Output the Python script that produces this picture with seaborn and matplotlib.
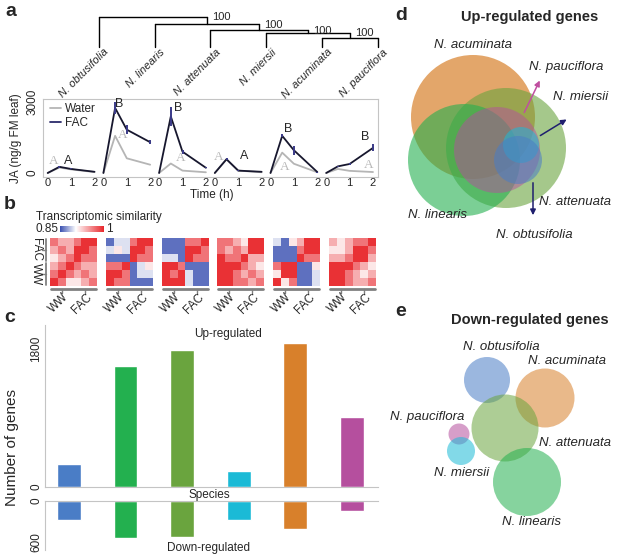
import numpy as np
import pandas as pd
import matplotlib
matplotlib.use("Agg")
import matplotlib.pyplot as plt
import seaborn as sns
from matplotlib.colors import LinearSegmentedColormap, Normalize
from matplotlib.patches import Circle

sns.set_style("white")
plt.rcParams['font.family'] = ['Liberation Sans', 'DejaVu Sans']

W, H = 617, 556

# ---- data ----
species = ["N. obtusifolia", "N. linearis", "N. attenuata", "N. miersii", "N. acuminata", "N. pauciflora"]
sp_colors = ["#4a7dc6", "#23b04f", "#6aa43e", "#1bbad6", "#d8802b", "#b54f9e"]

# a: tree (caterpillar, merged from the right), node heights and support
merge_height = [9, 14, 17, 23, 30]
bootstrap = ["100", "100", "100", "100"]

# a: JA time course
time_h = [0, 0.5, 1, 2]
ja_water = [[0, 230, 150, 40], [0, 1570, 620, 350], [0, 400, 100, 30],
            [0, 580, 100, 30], [0, 860, 390, 30], [0, 170, 90, 40]]
ja_fac = [[0, 260, 170, 50], [0, 2750, 1830, 1300], [0, 2390, 900, 220],
          [0, 580, 100, 50], [0, 1570, 960, 40], [0, 280, 380, 1060]]
fac_err = [[0, 40, 20, 10], [0, 250, 180, 80], [0, 400, 80, 30],
           [0, 40, 20, 10], [0, 60, 200, 20], [0, 30, 40, 150]]
letter_fac = ["A", "B", "B", "A", "B", "B"]
letter_fac_xy = [(0.87, 520), (0.67, 2900), (0.8, 2750), (1.25, 720), (0.74, 1870), (1.67, 1520)]
letter_water_xy = [(0.27, 520), (0.84, 1600), (0.93, 620), (0.17, 680), (0.61, 240), (1.8, 320)]

# b: transcriptomic similarity (rows FAC x3 then WW x3, cols WW x3 then FAC x3)
sim_obt = [[.965, .94, .94, .965, .995, .995], [.94, .965, .94, .995, .995, .965],
           [.915, .94, .965, .995, .965, .965], [.94, .965, .995, .965, .94, .94],
           [.965, .995, .965, .94, .965, .94], [.995, .965, .915, .915, .94, .965]]
sim_lin = [[.86, .895, .895, .965, .995, .995], [.895, .915, .895, .995, .995, .965],
           [.86, .86, .86, .995, .965, .965], [.965, .965, .995, .86, .895, .915],
           [.995, .995, .965, .86, .895, .895], [.995, .965, .965, .86, .86, .86]]
sim_att = [[.86, .86, .86, .965, .965, .995], [.86, .86, .86, .995, .995, .965],
           [.895, .895, .86, .995, .965, .965], [.995, .995, .965, .86, .86, .86],
           [.995, .965, .995, .895, .86, .86], [.995, .995, .995, .895, .86, .86]]
sim_mie = [[.965, .965, .94, .915, .995, .995], [.965, .94, .965, .94, .995, .995],
           [.995, .965, .965, .995, .94, .94], [.995, .995, .995, .965, .94, .915],
           [.995, .995, .965, .94, .965, .94], [.995, .995, .965, .965, .94, .965]]
sim_acu = [[.895, .86, .915, .94, .995, .995], [.86, .86, .86, .965, .995, .995],
           [.86, .86, .86, .995, .965, .965], [.965, .995, .995, .86, .86, .915],
           [.915, .995, .995, .86, .86, .895], [.995, .915, .965, .86, .86, .895]]
sim_pau = [[.94, .915, .94, .965, .965, .995], [.915, .915, .94, .995, .995, .965],
           [.94, .94, .965, .995, .995, .94], [.995, .995, .995, .965, .94, .915],
           [.995, .995, .965, .94, .915, .94], [.995, .995, .965, .94, .94, .965]]
sim_all = [sim_obt, sim_lin, sim_att, sim_mie, sim_acu, sim_pau]

# c: number of genes
up_genes = [300, 1580, 1790, 210, 1880, 910]
down_genes = [280, 540, 530, 280, 410, 150]

# d/e: Euler circles (panel pixel frame), drawing order
up_order = [4, 2, 1, 5, 3, 0]
up_cx = [518, 464, 506, 521, 473, 497]
up_cy = [160, 160, 148, 145, 117, 150]
up_r = [24, 56, 60, 18, 62, 43]
up_alpha = [0.55, 0.6, 0.6, 0.55, 0.7, 0.5]
dn_cx = [487, 527, 505, 461, 545, 459]
dn_cy = [380, 482, 428, 451, 398, 434]
dn_r = [23, 34, 33.5, 14, 29.5, 10.5]


def box(x0, y0, x1, y1):
    return [x0 / W, 1 - y1 / H, (x1 - x0) / W, (y1 - y0) / H]


def ftext(x, y, s, **kw):
    fig.text(x / W, 1 - y / H, s, **kw)


fig = plt.figure(figsize=(W / 100, H / 100), dpi=100)
grey = "#c4c4c4"

# ---- a: tree ----
axt = fig.add_axes(box(43, 10, 390, 60))
axt.set_xlim(-1.0, 5.215)
axt.set_ylim(-13, 37)
axt.axis("off")
right_x, right_h = 5, 0
node_x = []
for k, h in enumerate(merge_height):
    left = 4 - k
    axt.plot([left, left], [0, h], color="k", lw=1)
    axt.plot([right_x, right_x], [right_h, h], color="k", lw=1)
    axt.plot([left, right_x], [h, h], color="k", lw=1)
    node_x.append((right_x, h))
    right_x, right_h = (left + right_x) / 2, h
for k in range(4):
    x, h = node_x[4 - k]
    axt.text(x + 0.09, h - 0.5, bootstrap[k], fontsize=8, va="center", ha="left")
for i, sp in enumerate(species):
    axt.text(i + 0.15, -3.5, sp, fontsize=8, style="italic", rotation=45,
             rotation_mode="anchor", ha="right", va="center")

# ---- a: JA lines ----
frame = fig.add_axes(box(43, 99, 378, 177))
frame.set_ylim(-170, 3127)
frame.set_xticks([])
frame.set_yticks([0, 3000])
frame.set_yticklabels(["0", "3000"], rotation=90, va="center", fontsize=8.5)
frame.tick_params(axis="y", length=2, pad=1.5, color=grey)
for s in frame.spines.values():
    s.set_color(grey)
frame.set_ylabel("JA (ng/g FM leaf)", fontsize=8.5, labelpad=3)

for i in range(6):
    x0 = 47.7 + 55.7 * i
    ax = fig.add_axes(box(x0 - 3.5, 99, x0 + 46.8 + 3.5, 177))
    ax.patch.set_alpha(0)
    d = pd.DataFrame({"time": time_h * 2, "JA": ja_water[i] + ja_fac[i],
                      "treatment": ["Water"] * 4 + ["FAC"] * 4})
    sns.lineplot(data=d, x="time", y="JA", hue="treatment",
                 palette={"Water": "#b5b5b5", "FAC": "#17172e"}, lw=1.3,
                 legend=False, ax=ax)
    ax.vlines(time_h, np.array(ja_fac[i]) - np.array(fac_err[i]),
              np.array(ja_fac[i]) + np.array(fac_err[i]), color="#3a3a88", lw=1.4)
    ax.text(*letter_fac_xy[i], letter_fac[i], fontsize=9, ha="center", va="center")
    ax.text(*letter_water_xy[i], "A", fontsize=9.5, ha="center", va="center",
            color="#b8b8b8", family="Liberation Serif")
    ax.set_xlim(-0.15, 2.15)
    ax.set_ylim(-170, 3127)
    ax.set_xticks([0, 1, 2])
    ax.set_xticklabels(["0", "1", "2"], fontsize=8)
    ax.tick_params(axis="x", length=0, pad=1)
    ax.set_yticks([])
    ax.set_xlabel("")
    ax.set_ylabel("")
    for s in ax.spines.values():
        s.set_visible(False)
    if i == 0:
        ax.plot([], [], color="#b5b5b5", lw=1.3, label="Water")
        ax.plot([], [], color="#2b2b6b", lw=1.3, label="FAC")
        ax.legend(loc="upper left", frameon=False, fontsize=8.5, handlelength=0.9,
                  handletextpad=0.4, borderaxespad=0.1, labelspacing=0.15,
                  bbox_to_anchor=(0.0, 1.02))
ftext(212, 195, "Time (h)", fontsize=8.5, ha="center", va="center")

# ---- b: heatmaps ----
cmap = LinearSegmentedColormap.from_list("sim", [(0, "#3a50b0"), (0.36, "#ffffff"), (1, "#e8262b")])
for i, x0 in enumerate([50, 106, 162, 217, 273, 329]):
    ax = fig.add_axes(box(x0, 238, x0 + 47, 286))
    sns.heatmap(np.array(sim_all[i]), ax=ax, cmap=cmap, vmin=0.85, vmax=1.0,
                cbar=False, xticklabels=False, yticklabels=False)
    for a, b, lab in [(0.02, 0.48, "WW"), (0.52, 0.98, "FAC")]:
        ax.plot([a, b], [-0.06, -0.06], transform=ax.transAxes, clip_on=False,
                color="#808080", lw=2)
        m = (a + b) / 2
        ax.plot([m, m], [-0.06, -0.14], transform=ax.transAxes, clip_on=False,
                color="#808080", lw=1)
        ax.text(m + 0.1, -0.2, lab, transform=ax.transAxes, fontsize=8.5,
                rotation=45, rotation_mode="anchor", ha="right", va="center")
    if i == 0:
        for a, b, lab in [(0.52, 0.98, "FAC"), (0.02, 0.48, "WW")]:
            ax.plot([-0.09, -0.09], [a, b], transform=ax.transAxes, clip_on=False,
                    color="#808080", lw=1.3)
            m = (a + b) / 2
            ax.plot([-0.09, -0.17], [m, m], transform=ax.transAxes, clip_on=False,
                    color="#808080", lw=1)
            ax.text(-0.3, m, lab, transform=ax.transAxes, fontsize=8.5,
                    rotation=270, ha="center", va="center")

cax = fig.add_axes(box(60, 226, 104, 232))
cb = fig.colorbar(plt.cm.ScalarMappable(norm=Normalize(0.85, 1.0), cmap=cmap),
                  cax=cax, orientation="horizontal")
cb.set_ticks([])
cb.outline.set_visible(False)
ftext(36, 217, "Transcriptomic similarity", fontsize=8.5, va="center")
ftext(36, 229, "0.85", fontsize=8.5, va="center")
ftext(106, 229, "1", fontsize=8.5, va="center")

# ---- c: bars ----
dfc = pd.DataFrame({"species": species, "up": up_genes, "down": down_genes})
axu = fig.add_axes(box(45, 325, 378, 487))
sns.barplot(data=dfc, x="species", y="up", hue="species", palette=sp_colors,
            saturation=1, width=0.42, legend=False, ax=axu)
axu.set_xlim(-0.42, 5.46)
axu.set_ylim(0, 2110)
axl = fig.add_axes(box(45, 501, 378, 550))
sns.barplot(data=dfc, x="species", y="down", hue="species", palette=sp_colors,
            saturation=1, width=0.42, legend=False, ax=axl)
axl.set_xlim(-0.42, 5.46)
axl.set_ylim(717, 0)
for ax, ticks, sp in [(axu, [0, 1800], ["left", "bottom"]), (axl, [0, 600], ["left", "top"])]:
    ax.set_xticks([])
    ax.set_yticks(ticks)
    ax.set_yticklabels([str(t) for t in ticks], rotation=90, va="center", fontsize=8.5)
    ax.tick_params(axis="y", length=0, pad=2)
    ax.set_xlabel("")
    ax.set_ylabel("")
    for s in ax.spines:
        ax.spines[s].set_visible(s in sp)
        ax.spines[s].set_color(grey)
ftext(228, 334, "Up-regulated", fontsize=8.5, ha="center", va="center")
ftext(209, 495, "Species", fontsize=8.5, ha="center", va="center")
ftext(208, 548, "Down-regulated", fontsize=8.5, ha="center", va="center")
ftext(12, 447, "Number of genes", fontsize=11, rotation=90, ha="center", va="center")

# ---- d / e: Euler circles ----
axd = fig.add_axes(box(385, 25, 617, 556))
axd.set_xlim(385, 617)
axd.set_ylim(556, 25)
axd.axis("off")
for i in up_order:
    axd.add_patch(Circle((up_cx[i], up_cy[i]), up_r[i], color=sp_colors[i],
                         alpha=up_alpha[i], lw=0))
for i in [0, 4, 2, 5, 3, 1]:
    axd.add_patch(Circle((dn_cx[i], dn_cy[i]), dn_r[i], color=sp_colors[i],
                         alpha=0.55, lw=0))
arrow_kw = dict(arrowstyle="-|>", lw=1.1, mutation_scale=8)
axd.annotate("", xy=(541, 78), xytext=(523, 115), arrowprops=dict(color="#c04fa0", **arrow_kw))
axd.annotate("", xy=(569, 118), xytext=(538, 137), arrowprops=dict(color="#1f1f6e", **arrow_kw))
axd.annotate("", xy=(533, 218), xytext=(533, 180), arrowprops=dict(color="#1f1f6e", **arrow_kw))

up_lab = [(534, 235), (438, 215), (575, 202), (581, 97), (473, 45), (566, 67)]
dn_lab = [(501, 347), (531, 522), (575, 443), (462, 473), (567, 361), (427, 417)]
for i, sp in enumerate(species):
    axd.text(*up_lab[i], sp, fontsize=9.5, style="italic", ha="center", va="center")
    axd.text(*dn_lab[i], sp, fontsize=9.5, style="italic", ha="center", va="center")

ftext(530, 17, "Up-regulated genes", fontsize=10.5, weight="bold", ha="center", va="center")
ftext(530, 320, "Down-regulated genes", fontsize=10.5, weight="bold", ha="center", va="center")

for lab, x, y in [("a", 5, 12), ("b", 4, 205), ("c", 4, 317), ("d", 395, 15), ("e", 395, 311)]:
    ftext(x, y, lab, fontsize=14, weight="bold", va="center")

fig.savefig("out.png", dpi=100)
